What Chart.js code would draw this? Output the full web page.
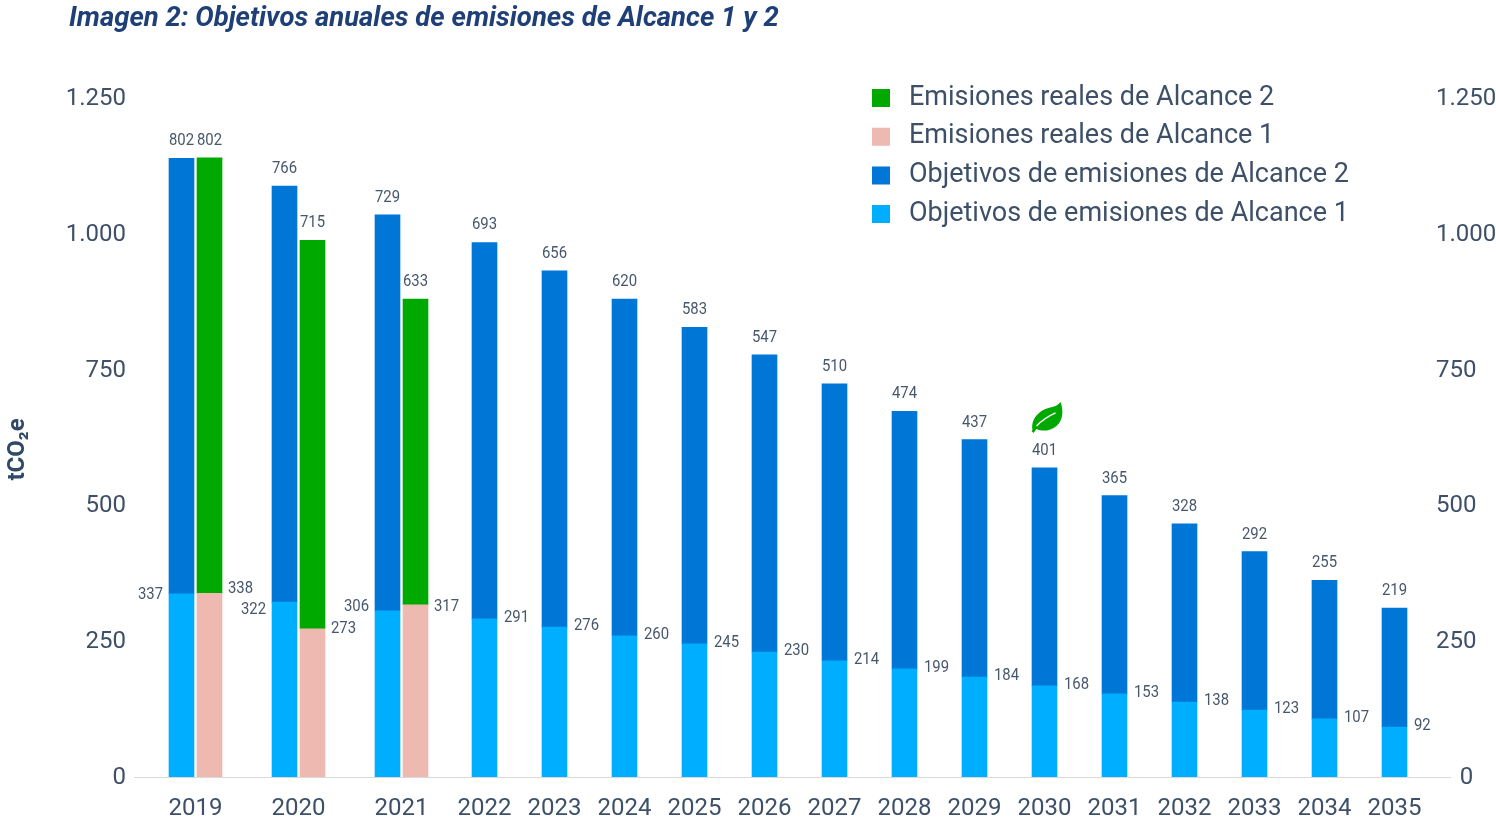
<!DOCTYPE html>
<html lang="es">
<head>
<meta charset="utf-8">
<title>Objetivos anuales de emisiones</title>
<script src="https://cdn.jsdelivr.net/npm/chart.js@4"></script>
<style>
  html, body { margin: 0; background: #fff; }
  #wrap { width: 1496px; height: 824px; }
</style>
</head>
<body>
<div id="wrap"><canvas id="chart" width="1496" height="824"></canvas></div>
<script>
const years = ["2019", "2020", "2021", "2022", "2023", "2024", "2025", "2026", "2027", "2028", "2029", "2030", "2031", "2032", "2033", "2034", "2035"];
const targetScope1 = [337, 322, 306, 291, 276, 260, 245, 230, 214, 199, 184, 168, 153, 138, 123, 107, 92];
const targetScope2 = [802, 766, 729, 693, 656, 620, 583, 547, 510, 474, 437, 401, 365, 328, 292, 255, 219];
const actualYears = ["2019", "2020", "2021"];
const actualScope1 = [338, 273, 317];
// the 2021 green bar is drawn shorter than its printed label says
const actualScope2 = [802, 715, 563];
const actualScope2Labels = [802, 715, 633];
const yTickLabels = ["0", "250", "500", "750", "1.000", "1.250"];

const INK = "#3d5068";
const BAR = 25;
const PAIR_SHIFT = 14;

// distance between year groups along the x axis, paired years need more room
const yearGaps = [61.5, 103, 103, 83, 70, 70, 70, 70, 70, 70, 70, 70, 70, 70, 70, 70, 70];
const yearPos = [];
yearGaps.reduce((sum, gap, i) => (yearPos[i] = sum + gap), 0);

const hasActual = y => actualYears.includes(y);
const targetX = i => yearPos[i] - (hasActual(years[i]) ? PAIR_SHIFT : 0);
const actualX = i => yearPos[years.indexOf(actualYears[i])] + PAIR_SHIFT;

// hand placement of the scope 1 labels in the paired years [dy]
const targetNudge = [1, 8, -4];
const actualNudge = [-4, 0, 2];

// reference text runs a bit narrow, so squeeze it horizontally
function text(ctx, str, x, y, align) {
  ctx.save();
  ctx.translate(x, y);
  ctx.scale(0.93, 1);
  ctx.textAlign = align;
  ctx.fillText(str, 0, 0);
  ctx.restore();
}

const valueLabels = {
  id: "valueLabels",
  afterDatasetsDraw(chart) {
    const ctx = chart.ctx;
    ctx.save();
    ctx.font = "16px Roboto";
    ctx.fillStyle = "#47576c";
    ctx.textBaseline = "middle";

    chart.getDatasetMeta(0).data.forEach((bar, i) => {
      const paired = hasActual(years[i]);
      if (paired) text(ctx, targetScope1[i], bar.x - BAR / 2 - 6, bar.y + targetNudge[i], "right");
      else text(ctx, targetScope1[i], bar.x + BAR / 2 + 7, bar.y - 1, "left");
    });
    chart.getDatasetMeta(1).data.forEach((bar, i) => {
      text(ctx, targetScope2[i], bar.x, bar.y - 17, "center");
    });
    chart.getDatasetMeta(2).data.forEach((bar, i) => {
      text(ctx, actualScope1[i], bar.x + BAR / 2 + 6, bar.y + actualNudge[i], "left");
    });
    chart.getDatasetMeta(3).data.forEach((bar, i) => {
      text(ctx, actualScope2Labels[i], bar.x, bar.y - 17, "center");
    });
    ctx.restore();
  }
};

// leaf marker above the 2030 target
const leafMark = {
  id: "leafMark",
  afterDatasetsDraw(chart) {
    const bar = chart.getDatasetMeta(1).data[years.indexOf("2030")];
    const ctx = chart.ctx;
    ctx.save();
    ctx.translate(bar.x, bar.y - 2);
    ctx.fillStyle = "#00a900";
    ctx.beginPath();
    ctx.moveTo(-12, -36);
    ctx.bezierCurveTo(-14, -48, -4, -56, 4, -58);
    ctx.bezierCurveTo(8, -59, 13, -60, 16, -64);
    ctx.bezierCurveTo(19, -56, 19, -46, 12, -40);
    ctx.bezierCurveTo(6, -35, -2, -34, -8, -37);
    ctx.lineTo(-11, -33);
    ctx.lineTo(-13, -35);
    ctx.closePath();
    ctx.fill();
    ctx.strokeStyle = "#fff";
    ctx.lineWidth = 1.4;
    ctx.beginPath();
    ctx.moveTo(-8, -40);
    ctx.quadraticCurveTo(0, -48, 11, -53);
    ctx.stroke();
    ctx.restore();
  }
};

// legend, title and right axis sit where the library has no placement option for them
const placeBlocks = {
  id: "placeBlocks",
  afterLayout(chart) {
    chart.legend.left = 860.3;
    chart.legend.right = 1430;
    chart.legend.top = 72.8;
    chart.legend.bottom = 250;
    chart.titleBlock.left = 69;
    chart.scales.yRight.left = 1436;
  }
};

new Chart(document.getElementById("chart"), {
  type: "bar",
  data: {
    datasets: [
      {
        label: "Objetivos de emisiones de Alcance 1",
        data: targetScope1.map((y, i) => ({ x: targetX(i), y })),
        backgroundColor: "#00aeff",
        stack: "target"
      },
      {
        label: "Objetivos de emisiones de Alcance 2",
        data: targetScope2.map((y, i) => ({ x: targetX(i), y })),
        backgroundColor: "#0076d6",
        stack: "target"
      },
      {
        label: "Emisiones reales de Alcance 1",
        data: actualScope1.map((y, i) => ({ x: actualX(i), y })),
        backgroundColor: "#edb9b0",
        stack: "actual"
      },
      {
        label: "Emisiones reales de Alcance 2",
        data: actualScope2.map((y, i) => ({ x: actualX(i), y })),
        backgroundColor: "#00a900",
        stack: "actual"
      }
    ]
  },
  options: {
    responsive: false,
    animation: false,
    grouped: false,
    barThickness: BAR,
    maxBarThickness: BAR,
    layout: { padding: 0 },
    plugins: {
      tooltip: { enabled: false },
      title: {
        display: true,
        text: "Imagen 2: Objetivos anuales de emisiones de Alcance 1 y 2",
        align: "start",
        color: "#1f3f77",
        font: { family: "Roboto", size: 27.5, weight: "bold", style: "italic", lineHeight: 1.2 },
        padding: { top: 3, bottom: 62 }
      },
      legend: {
        position: "chartArea",
        align: "start",
        reverse: true,
        labels: {
          color: INK,
          font: { family: "Roboto", size: 27 },
          boxWidth: 18,
          boxHeight: 18,
          padding: 11.7,
          generateLabels: chart => Chart.defaults.plugins.legend.labels.generateLabels(chart)
            .map(item => ({ ...item, text: "\u2009" + item.text }))
        }
      }
    },
    scales: {
      x: {
        type: "linear",
        offset: false,
        min: 0,
        max: 1316,
        grid: { display: false, drawTicks: false },
        border: { display: true, color: "#d9d9d9", width: 1 },
        afterBuildTicks: axis => { axis.ticks = yearPos.map(value => ({ value })); },
        afterFit: axis => { axis.height = 47; },
        ticks: {
          autoSkip: false,
          maxRotation: 0,
          padding: 18,
          color: INK,
          font: { family: "Roboto", size: 24 },
          callback: (value, i) => years[i]
        }
      },
      y: {
        stacked: true,
        min: 0,
        max: 1250,
        grid: { display: false, drawTicks: false },
        border: { display: false },
        afterFit: axis => { axis.width = 134; },
        title: {
          display: true,
          text: "tCO₂e\u00a0\u00a0\u00a0\u00a0",
          color: "#2f4a68",
          font: { family: "Roboto", size: 24, weight: "bold" }
        },
        ticks: {
          stepSize: 250,
          padding: 8,
          labelOffset: 1,
          color: INK,
          font: { family: "Roboto", size: 24 },
          callback: (value, i) => yTickLabels[i]
        }
      },
      yRight: {
        position: "right",
        min: 0,
        max: 1250,
        grid: { display: false, drawTicks: false },
        border: { display: false },
        afterFit: axis => { axis.width = 46; },
        ticks: {
          stepSize: 250,
          padding: 0,
          labelOffset: 1,
          color: INK,
          font: { family: "Roboto", size: 24 },
          // the zero sits further in than the other right-hand labels
          callback: (value, i) => (value === 0 ? "\u00a0\u00a0\u00a0\u00a0" : "") + yTickLabels[i]
        }
      }
    }
  },
  plugins: [placeBlocks, valueLabels, leafMark]
});
</script>
</body>
</html>
